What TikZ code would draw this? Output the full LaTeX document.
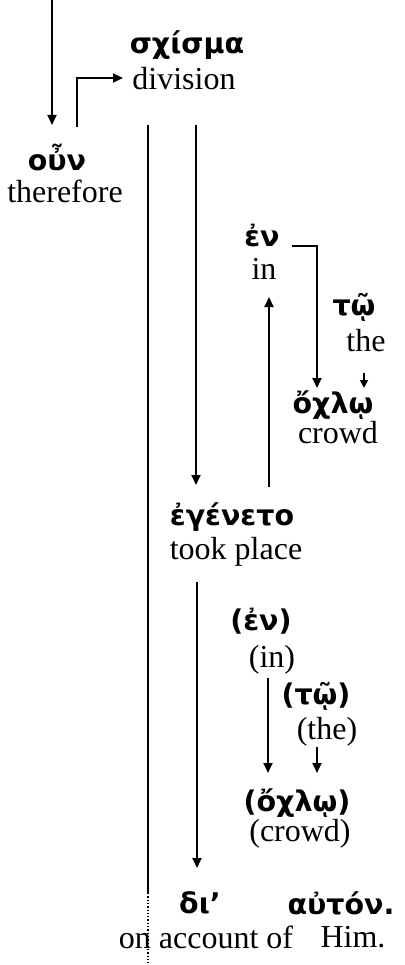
\documentclass[tikz,border=0pt]{standalone}
\usepackage{fontspec}
\setmainfont{Liberation Serif}
\newfontfamily\grk{DejaVu Sans}
\usetikzlibrary{arrows.meta}
\begin{document}
\begin{tikzpicture}[x=1pt,y=-1pt,
  en/.style={inner sep=0pt,font=\fontsize{32}{36}\selectfont},
  gr/.style={inner sep=0pt,font=\grk\bfseries\fontsize{28.5}{32}\selectfont},
  conn/.style={line width=1.8pt},
  arr/.style={conn,-{Triangle[length=10pt,width=9pt]}}]
\useasboundingbox[fill=white] (0,0) rectangle (404,965);
% words
\node[gr] (schisma) at (187,45) {σχίσμα};
\node[en] (division) at (184,79) {division};
\node[gr] (oun) at (57,157) {οὖν};
\node[en] (therefore) at (65,191) {therefore};
\node[gr] (en1) at (262,236) {ἐν};
\node[en] (in1) at (264,269) {in};
\node[gr] (to1) at (354,307) {τῷ};
\node[en] (the1) at (366,341) {the};
\node[gr] (ochlo1) at (333,405) {ὄχλῳ};
\node[en] (crowd1) at (338,433) {crowd};
\node[gr] (egeneto) at (232,517) {ἐγένετο};
\node[en] (tookplace) at (236,552) {took place};
\node[gr] (en2) at (261,621) {(ἐν)};
\node[en] (in2) at (272,660) {(in)};
\node[gr] (to2) at (316,696) {(τῷ)};
\node[en] (the2) at (327,732) {(the)};
\node[gr] (ochlo2) at (297,803) {(ὄχλῳ)};
\node[en] (crowd2) at (300,834) {(crowd)};
\node[gr] (di) at (200,903) {δι’};
\node[en] (onaccount) at (206,937) {on account of};
\node[gr] (auton) at (341,903) {αὐτόν.};
\node[en] (him) at (353,937) {Him.};
% connector end points
\coordinate (top) at (52,0);
\coordinate (ounIn) at (52,125);
\coordinate (ounOut) at (77,127);
\coordinate (schIn) at (123,78);
\coordinate (mainTop) at (148,125);
\coordinate (mainSolid) at (148,893);
\coordinate (mainEnd) at (148,963);
\coordinate (schOut) at (196,125);
\coordinate (egIn) at (196,485);
\coordinate (enOut) at (292,246);
\coordinate (ochIn) at (317,388);
\coordinate (egOut) at (269,487);
\coordinate (enIn) at (269,297);
\coordinate (theOut) at (364,373);
\coordinate (theIn) at (364,388);
\coordinate (egOut2) at (197,582);
\coordinate (diIn) at (197,868);
\coordinate (en2Out) at (268,678);
\coordinate (och2In) at (268,773);
\coordinate (the2Out) at (317,747);
\coordinate (the2In) at (317,773);
% connectors
\draw[arr] (top) -- (ounIn);
\draw[arr] (ounOut) |- (schIn);
\draw[conn] (mainTop) -- (mainSolid);
\draw[line width=1.3pt,dotted] (mainSolid) -- (mainEnd);
\draw[arr] (schOut) -- (egIn);
\draw[arr] (enOut) -| (ochIn);
\draw[arr] (egOut) -- (enIn);
\draw[conn,-{Triangle[length=8pt,width=8pt]}] (theOut) -- (theIn);
\draw[arr] (egOut2) -- (diIn);
\draw[arr] (en2Out) -- (och2In);
\draw[arr] (the2Out) -- (the2In);
\end{tikzpicture}
\end{document}
